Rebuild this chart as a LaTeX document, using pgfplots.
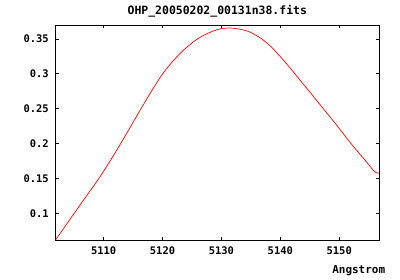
\documentclass[border=0pt]{standalone}
\usepackage{fontspec}
\setmainfont{DejaVu Sans Mono}
\usepackage{pgfplots}
\pgfplotsset{compat=1.18}
\begin{document}
\begin{tikzpicture}
\begin{axis}[
  scale only axis,
  width=324bp, height=215.3bp,
  xmin=5101.8, xmax=5156.8,
  ymin=0.0614, ymax=0.37,
  axis line style={black, line width=0.8pt},
  tick style={black, line width=0.8pt},
  tick align=inside,
  major tick length=3.5bp,
  xtick={5110,5120,5130,5140,5150},
  xticklabels={5110,5120,5130,5140,5150},
  ytick={0.1,0.15,0.2,0.25,0.3,0.35},
  yticklabels={0.1,0.15,0.2,0.25,0.3,0.35},
  /pgf/number format/assume math mode=true,
  ticklabel style={font=\bfseries\fontsize{10.5}{12}\selectfont},
  xticklabel style={yshift=-3bp},
  yticklabel style={xshift=-3bp},
  title={OHP\_20050202\_00131n38.fits},
  title style={font=\bfseries\fontsize{11.5}{12}\selectfont, yshift=-2bp},
  xlabel={Angstrom},
  xlabel style={font=\bfseries\fontsize{11}{12}\selectfont, at={(axis description cs:1,0)}, anchor=north east, inner sep=0pt, xshift=6bp, yshift=-25bp},
]
\addplot[red, line width=0.7pt, smooth, tension=0.4] coordinates {
(5101.8,0.0614)
(5105.0,0.1)
(5107.1,0.125)
(5109.2,0.15)
(5111.1,0.175)
(5112.9,0.2)
(5114.6,0.2245)
(5116.2,0.2480)
(5117.9,0.2720)
(5118.8,0.2842)
(5120.2,0.3020)
(5121.9,0.3195)
(5123.5,0.3335)
(5125.2,0.3455)
(5126.6,0.3535)
(5128.5,0.3610)
(5130.0,0.3648)
(5131.5,0.3657)
(5133.2,0.3639)
(5134.9,0.3597)
(5136.6,0.3515)
(5138.3,0.3400)
(5140.0,0.3247)
(5141.7,0.3081)
(5143.3,0.2914)
(5144.9,0.275)
(5147.3,0.25)
(5149.7,0.225)
(5152.0,0.2)
(5154.2,0.178)
(5156.1,0.159)
(5156.8,0.158)
};
\end{axis}
\pgfresetboundingbox
\path[use as bounding box] ([xshift=-55.3bp,yshift=-39.7bp]current axis.south west) rectangle ([xshift=20.7bp,yshift=25bp]current axis.north east);
\end{tikzpicture}
\end{document}
